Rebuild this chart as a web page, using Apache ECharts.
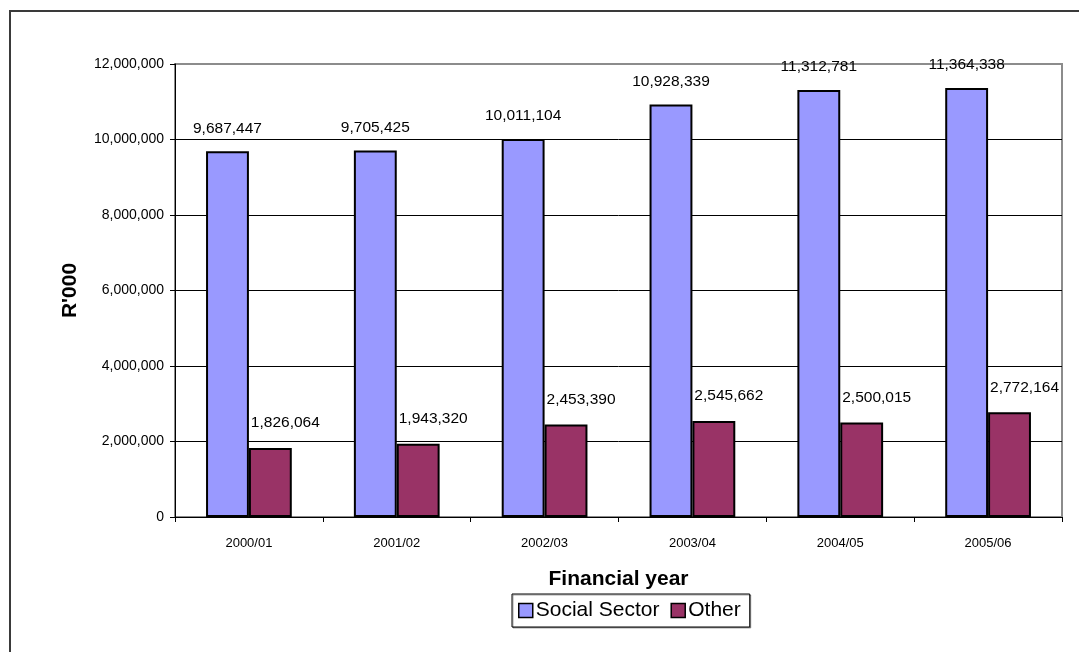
<!DOCTYPE html>
<html>
<head>
<meta charset="utf-8">
<style>
  html, body { margin: 0; padding: 0; background: #ffffff; }
  #chart { width: 1079px; height: 652px; }
</style>
<script src="https://cdn.jsdelivr.net/npm/echarts@6/dist/echarts.min.js"></script>
</head>
<body>
<div id="chart"></div>
<script>
// Expenditure by financial year, R'000
const categories = ['2000/01', '2001/02', '2002/03', '2003/04', '2004/05', '2005/06'];
const socialSector = [9687447, 9705425, 10011104, 10928339, 11312781, 11364338];
const other = [1826064, 1943320, 2453390, 2545662, 2500015, 2772164];
const seriesNames = ['Social Sector', 'Other'];

const FONT = "'Liberation Sans', Arial, sans-serif";
const fmt = v => Math.round(v).toLocaleString('en-US');

const chart = echarts.init(document.getElementById('chart'), null, { renderer: 'canvas' });

chart.setOption({
  animation: false,
  backgroundColor: '#ffffff',
  textStyle: { fontFamily: FONT },
  graphic: [{
    type: 'rect',
    shape: { x: 10, y: 11, width: 1200, height: 800 },
    style: { fill: 'none', stroke: '#3a3a3a', lineWidth: 2 },
    silent: true,
    z: 100
  }],
  grid: {
    left: 175, top: 64, right: 17, bottom: 135,
    show: true,
    borderColor: '#8c8c8c',
    borderWidth: 2,
    backgroundColor: 'transparent'
  },
  legend: {
    data: seriesNames,
    left: 512, top: 594,
    padding: [6, 9, 6, 6],
    itemGap: 11,
    itemWidth: 14, itemHeight: 14,
    icon: 'rect',
    borderColor: '#000000', borderWidth: 1,
    backgroundColor: '#ffffff',
    shadowColor: 'rgba(0,0,0,0.35)', shadowOffsetX: 1, shadowOffsetY: 1,
    itemStyle: { borderColor: '#000000', borderWidth: 1.5 },
    textStyle: { fontFamily: FONT, fontSize: 21, color: '#000000', padding: [0, 0, 0, -2] }
  },
  xAxis: {
    type: 'category',
    data: categories,
    name: 'Financial year',
    nameLocation: 'middle',
    nameGap: 52,
    nameTextStyle: { fontFamily: FONT, fontSize: 21, fontWeight: 'bold', color: '#000000' },
    axisLine: { lineStyle: { color: '#000000', width: 1 } },
    axisTick: { show: true, length: 5, lineStyle: { color: '#000000' } },
    axisLabel: { fontFamily: FONT, fontSize: 13, color: '#000000', margin: 20 },
    splitLine: { show: false }
  },
  yAxis: {
    type: 'value',
    min: 0, max: 12000000, interval: 2000000,
    name: "R'000",
    nameLocation: 'middle',
    nameGap: 94,
    nameTextStyle: { fontFamily: FONT, fontSize: 21, fontWeight: 'bold', color: '#000000' },
    axisLine: { show: true, lineStyle: { color: '#000000', width: 1 } },
    axisTick: { show: true, length: 5, lineStyle: { color: '#000000' } },
    axisLabel: { fontFamily: FONT, fontSize: 14, color: '#000000', margin: 11, formatter: fmt },
    splitLine: { show: true, showMinLine: false, showMaxLine: false, lineStyle: { color: '#000000', width: 1 } }
  },
  series: [
    {
      name: seriesNames[0],
      type: 'bar',
      data: socialSector,
      barGap: '0%',
      barCategoryGap: '42%',
      itemStyle: { color: '#9999FF', borderColor: '#000000', borderWidth: 2 },
      label: {
        show: true, position: 'top', distance: 15,
        fontFamily: FONT, fontSize: 15.5, color: '#000000',
        formatter: p => fmt(p.value)
      }
    },
    {
      name: seriesNames[1],
      type: 'bar',
      data: other,
      itemStyle: { color: '#993366', borderColor: '#000000', borderWidth: 2 },
      label: {
        show: true, position: 'top', distance: 17, offset: [15, 0],
        fontFamily: FONT, fontSize: 15.5, color: '#000000',
        formatter: p => fmt(p.value)
      }
    }
  ]
});
</script>
</body>
</html>
